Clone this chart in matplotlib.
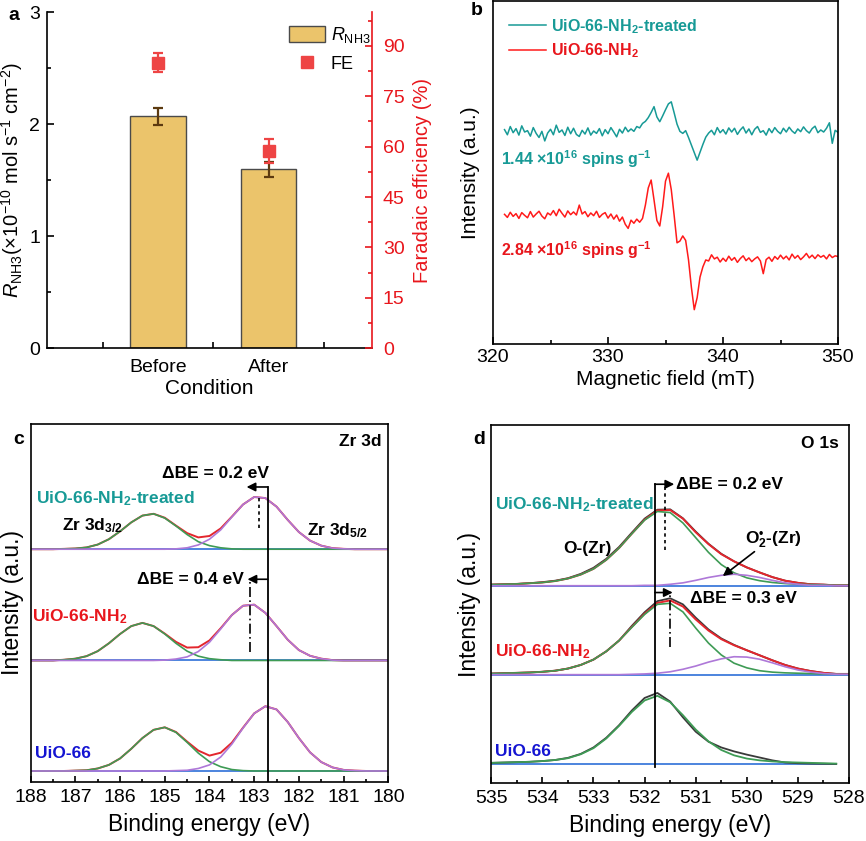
import numpy as np
import matplotlib
matplotlib.use('Agg')
import matplotlib.pyplot as plt

plt.rcParams['font.family'] = ['Liberation Sans', 'DejaVu Sans']
plt.rcParams['mathtext.fontset'] = 'custom'
plt.rcParams['mathtext.rm'] = 'Liberation Sans'
plt.rcParams['mathtext.it'] = 'Liberation Sans:italic'
plt.rcParams['mathtext.bf'] = 'Liberation Sans:bold'
plt.rcParams['axes.linewidth'] = 1.2

TEAL = '#179A96'
RED = '#E8161C'
BLUE = '#1414D2'
GREEN = '#3E9B55'
PURPLE = '#AE78D8'
BASE = '#2E6FD8'
ENV = '#E3262D'
RAW = '#3A3A3A'

# ---- a: NH3 yield rate / FE before and after ----
conditions = ['Before', 'After']
rate = [2.07, 1.60]
rate_err = [0.075, 0.067]
fe = [85.0, 58.7]
fe_err = [2.9, 3.7]

# ---- b: EPR spectra (a.u.), field 321-350 mT every 0.25 mT ----
field_start, field_stop, field_step = 321.0, 350.0, 0.25
epr_treated = [
    62.5, 61.0, 63.4, 61.6, 62.8, 60.9, 63.6, 61.8, 62.2, 60.6, 63.1, 61.4,
    60.2, 62.0, 59.2, 61.5, 62.6, 61.0, 63.8, 61.7, 62.4, 60.8, 63.2, 61.3,
    62.9, 61.1, 60.5, 62.3, 61.2, 63.0, 60.9, 62.1, 61.4, 62.8, 60.7, 62.5,
    61.3, 63.1, 61.8, 60.4, 62.6, 61.5, 63.2, 61.9, 62.7, 62.0, 63.4, 63.0,
    64.3, 64.9, 66.0, 67.5, 69.2, 66.2, 64.8, 66.5, 68.3, 70.0, 70.6, 67.4,
    64.1, 62.0, 61.4, 62.2, 60.2, 58.0, 55.8, 53.6, 55.9, 58.2, 60.3, 61.5,
    62.3, 61.0, 63.1, 61.6, 62.5, 61.2, 63.0, 61.8, 62.9, 61.1, 62.4, 63.3,
    61.5, 62.7, 61.0, 62.6, 63.4, 61.7, 62.2, 60.9, 62.8, 61.6, 63.1, 62.0,
    61.3, 62.9, 61.8, 63.2, 62.1, 61.4, 62.7, 61.9, 63.3, 62.2, 61.5, 62.8,
    63.5, 61.6, 62.4, 61.8, 62.9, 64.5, 58.5, 62.3, 61.7]
epr_pristine = [
    37.8, 36.9, 38.4, 37.2, 38.0, 36.6, 38.3, 37.5, 36.8, 38.6, 37.0, 37.9,
    38.7, 37.3, 36.5, 38.2, 37.6, 38.9, 37.4, 39.3, 38.1, 37.0, 38.8, 37.7,
    38.5, 37.6, 40.5, 37.9, 38.6, 37.1, 38.2, 37.4, 38.7, 36.9, 37.8, 38.3,
    36.7, 37.9, 36.4, 37.6, 35.8, 37.0, 34.9, 33.7, 36.1, 35.2, 36.4, 35.5,
    36.6, 40.5, 45.5, 47.8, 42.0, 36.0, 34.4, 40.0, 47.5, 49.8, 45.0, 37.5,
    29.5, 30.0, 31.5, 30.2, 24.5, 16.5, 10.0, 13.5, 19.5, 22.5, 24.5, 24.2,
    26.0, 24.8, 25.3, 23.9, 25.0, 24.1, 25.6, 24.4, 25.2, 23.8, 24.9, 25.7,
    24.3, 25.1, 24.0, 24.8, 25.4, 24.2, 20.5, 24.6, 25.3, 24.1, 25.5, 24.7,
    25.9, 24.8, 25.6, 24.5, 26.2, 25.0, 25.8, 24.6, 25.4, 26.4, 25.1, 25.9,
    24.9, 26.0, 25.3, 25.8, 24.8, 26.1, 25.2, 25.7, 25.5]
spin_labels = [r'1.44 ×10$^\mathbf{16}$ spins g$^\mathbf{-1}$',
               r'2.84 ×10$^\mathbf{16}$ spins g$^\mathbf{-1}$']

# ---- c: Zr 3d XPS, 188 -> 180 eV every 0.25 eV (height above baseline) ----
zr_offset = [3.0, 33.9, 65.0]          # UiO-66, NH2, treated
zr_peak = [182.7, 183.1, 182.9]        # Zr 3d5/2 position
zr_env_bare = [0, 0, 0, 0, 0.1, 0.2, 0.7, 1.7, 3.5, 6.2, 9.2, 11.5, 12.2, 10.9, 8.2, 5.7, 4.3,
               5.1, 7.9, 12.1, 16.1, 18.1, 17.2, 13.7, 9.2, 5.2, 2.5, 1.0, 0.3, 0.1, 0, 0, 0]
zr_32_bare = [0, 0, 0, 0, 0.1, 0.2, 0.7, 1.7, 3.5, 6.2, 9.2, 11.5, 12.2, 10.8, 8.0, 5.0, 2.6,
              1.2, 0.4, 0.1, 0, 0, 0, 0, 0, 0, 0, 0, 0, 0, 0, 0, 0]
zr_52_bare = [0, 0, 0, 0, 0, 0, 0, 0, 0, 0, 0, 0, 0, 0.1, 0.2, 0.7, 1.7,
              3.9, 7.5, 12.0, 16.1, 18.1, 17.2, 13.7, 9.2, 5.2, 2.5, 1.0, 0.3, 0.1, 0, 0, 0]
zr_env_nh2 = [0, 0, 0, 0.2, 0.5, 1.2, 2.6, 4.8, 7.4, 9.6, 10.5, 9.6, 7.5, 5.2, 3.6, 3.7, 5.6,
              9.0, 12.7, 15.3, 15.6, 13.3, 9.6, 5.8, 2.9, 1.3, 0.5, 0.1, 0, 0, 0, 0, 0]
zr_32_nh2 = [0, 0, 0, 0.2, 0.5, 1.2, 2.6, 4.8, 7.4, 9.6, 10.5, 9.6, 7.4, 4.8, 2.6, 1.2, 0.5,
             0.2, 0, 0, 0, 0, 0, 0, 0, 0, 0, 0, 0, 0, 0, 0, 0]
zr_52_nh2 = [0, 0, 0, 0, 0, 0, 0, 0, 0, 0, 0, 0, 0.1, 0.4, 1.0, 2.5, 5.1,
             8.8, 12.7, 15.3, 15.6, 13.3, 9.6, 5.8, 2.9, 1.3, 0.5, 0.1, 0, 0, 0, 0, 0]
zr_env_tr = [0, 0, 0, 0.1, 0.2, 0.5, 1.3, 2.8, 5.0, 7.5, 9.4, 9.9, 8.8, 6.6, 4.5, 3.3, 3.7,
             5.8, 9.1, 12.5, 14.6, 14.3, 11.9, 8.2, 4.8, 2.4, 1.0, 0.3, 0.1, 0, 0, 0, 0]
zr_32_tr = [0, 0, 0, 0.1, 0.2, 0.5, 1.3, 2.8, 5.0, 7.5, 9.4, 9.9, 8.7, 6.5, 4.1, 2.1, 1.0,
            0.4, 0.1, 0, 0, 0, 0, 0, 0, 0, 0, 0, 0, 0, 0, 0, 0]
zr_52_tr = [0, 0, 0, 0, 0, 0, 0, 0, 0, 0, 0, 0, 0, 0.1, 0.4, 1.2, 2.8,
            5.4, 9.0, 12.5, 14.6, 14.3, 11.9, 8.2, 4.8, 2.4, 1.0, 0.3, 0.1, 0, 0, 0, 0]

# ---- d: O 1s XPS, 535 -> 528 eV every 0.25 eV (height above baseline) ----
o_offset = [5.4, 30.3, 55.1]
o_peak = [531.8, 531.5, 531.6]
o_raw_bare = [0.3, 0.4, 0.5, 0.6, 0.8, 1.1, 1.7, 2.8, 4.6, 7.3, 10.8, 14.9, 18.4, 19.8,
              17.4, 13.0, 9.0, 6.2, 4.6, 3.5, 2.6, 1.8, 1.0, 0.4, 0.2, 0.1, 0.05, 0.0]
o_zr_bare = [0.3, 0.4, 0.5, 0.6, 0.8, 1.1, 1.6, 2.7, 4.4, 7.1, 10.6, 14.5, 17.7, 19.0,
             17.2, 13.6, 9.6, 6.3, 3.9, 2.4, 1.5, 1.0, 0.7, 0.5, 0.4, 0.3, 0.2, 0.1]
o_raw_nh2 = [0.3, 0.4, 0.5, 0.6, 0.8, 1.1, 1.7, 2.7, 4.2, 6.5, 9.5, 13.6, 17.4, 20.5, 21.3,
             19.6, 15.9, 12.6, 10.1, 8.3, 6.8, 5.4, 4.0, 2.7, 1.7, 1.0, 0.5, 0.2, 0.2]
o_env_nh2 = [0.3, 0.4, 0.5, 0.6, 0.8, 1.1, 1.7, 2.7, 4.2, 6.5, 9.5, 13.3, 17.0, 20.0, 20.7,
             19.0, 15.4, 12.3, 9.9, 8.2, 6.8, 5.4, 4.0, 2.7, 1.7, 1.0, 0.5, 0.2, 0.2]
o_zr_nh2 = [0.3, 0.4, 0.5, 0.6, 0.8, 1.1, 1.7, 2.7, 4.2, 6.5, 9.5, 13.2, 16.8, 19.6, 19.9,
            17.5, 13.0, 8.8, 5.5, 3.2, 1.9, 1.1, 0.7, 0.5, 0.4, 0.3, 0.2, 0.1, 0.1]
o_sup_nh2 = [0, 0, 0, 0, 0, 0, 0, 0, 0, 0, 0, 0.1, 0.2, 0.4, 0.8,
             1.5, 2.4, 3.5, 4.4, 5.0, 4.9, 4.3, 3.3, 2.2, 1.3, 0.7, 0.3, 0.1, 0.1]
o_raw_tr = [0.3, 0.4, 0.5, 0.7, 1.0, 1.4, 2.1, 3.3, 5.0, 7.5, 10.8, 14.8, 18.7, 21.2, 21.3,
            18.8, 15.1, 11.7, 8.9, 6.8, 5.1, 3.7, 2.4, 1.4, 0.8, 0.4, 0.3, 0.1, 0.1]
o_env_tr = [0.3, 0.4, 0.5, 0.7, 0.9, 1.3, 2.0, 3.1, 4.7, 7.2, 10.5, 14.5, 18.4, 21.0, 21.1,
            18.7, 14.9, 11.6, 8.8, 6.8, 5.1, 3.7, 2.4, 1.4, 0.8, 0.4, 0.3, 0.1, 0.1]
o_zr_tr = [0.3, 0.4, 0.5, 0.7, 0.9, 1.3, 2.0, 3.1, 4.7, 7.2, 10.5, 14.5, 18.3, 20.7, 20.4,
           17.5, 13.4, 9.3, 5.9, 3.6, 2.2, 1.4, 0.9, 0.6, 0.4, 0.3, 0.2, 0.1, 0.1]
o_sup_tr = [0, 0, 0, 0, 0, 0, 0, 0, 0, 0, 0, 0, 0.1, 0.1, 0.4,
            0.8, 1.5, 2.3, 2.9, 3.2, 2.9, 2.3, 1.5, 0.8, 0.4, 0.1, 0.1, 0, 0]

fig = plt.figure(figsize=(8.66, 8.41), dpi=100)

# ================= a =================
ax = fig.add_axes([0.0546, 0.5859, 0.3746, 0.3995])
xpos = np.arange(1, len(conditions) + 1)
bars = ax.bar(xpos, rate, width=0.5, color='#EBC46B', edgecolor='#4a4a4a', linewidth=1.0,
              label=r'$R_\mathrm{NH3}$', zorder=2)
ax.errorbar(xpos, rate, yerr=rate_err, fmt='none', ecolor='#5C3A10', elinewidth=1.6,
            capsize=3.5, capthick=1.6, zorder=3)
ax.set_xlim(0, 2.93)
ax.set_ylim(0, 3)
ax.set_xticks(xpos, conditions)
ax.set_xticks(np.append(xpos - 0.5, xpos[-1] + 0.5), minor=True)
ax.set_yticks([0, 1, 2, 3])
ax.set_yticks([0.5, 1.5, 2.5], minor=True)
ax.tick_params(direction='in', which='both', labelsize=14, width=1.2)
ax.tick_params(axis='y', which='major', length=5, pad=5)
ax.tick_params(axis='y', which='minor', length=3)
ax.tick_params(axis='x', which='major', length=0, pad=8)
ax.tick_params(axis='x', which='minor', length=4)
ax.spines['top'].set_visible(False)
ax.spines['right'].set_visible(False)
ax.set_xlabel('Condition', fontsize=15, labelpad=2)
ax.set_ylabel(r'$R_\mathrm{NH3}$(×10$^{-10}$ mol s$^{-1}$ cm$^{-2}$)', fontsize=14.5)
ax.yaxis.set_label_coords(-0.068, 0.5)

ax2 = ax.twinx()
ax2.errorbar(xpos, fe, yerr=fe_err, fmt='none', ecolor='#EE4444', elinewidth=1.6,
             capsize=3.5, capthick=1.6)
fe_line, = ax2.plot(xpos, fe, 's', color='#EE4444', ms=9, label='FE')
ax2.set_ylim(0, 100)
ax2.set_yticks(np.arange(0, 91, 15))
ax2.set_yticks(np.arange(7.5, 100, 15), minor=True)
ax2.tick_params(direction='in', which='both', labelsize=14, width=1.2,
                colors=RED, pad=8)
ax2.tick_params(which='major', length=5)
ax2.tick_params(which='minor', length=3)
for s in ['top', 'left', 'bottom']:
    ax2.spines[s].set_visible(False)
ax2.spines['right'].set_color(RED)
ax2.set_ylabel('Faradaic efficiency (%)', fontsize=14.5, color=RED)
ax2.yaxis.set_label_coords(1.127, 0.5)
ax2.legend([bars, fe_line], [r'$R_\mathrm{NH3}$', 'FE'], loc='upper left',
           bbox_to_anchor=(0.695, 1.01), frameon=False, fontsize=13,
           handlelength=2.0, handleheight=0.95, handletextpad=0.3, labelspacing=0.55)

# ================= b =================
axb = fig.add_axes([0.5693, 0.5910, 0.3984, 0.4078])
field = np.arange(field_start, field_stop + field_step / 2, field_step)
axb.plot(field, epr_treated, color=TEAL, lw=1.1, label=r'UiO-66-NH$_\mathbf{2}$-treated')
axb.plot(field, epr_pristine, color='#FF1A1A', lw=1.1, label=r'UiO-66-NH$_\mathbf{2}$')
axb.set_xlim(320, 350)
axb.set_ylim(0, 100)
axb.set_yticks([])
axb.set_xticks([320, 330, 340, 350])
axb.set_xticks([325, 335, 345], minor=True)
axb.tick_params(direction='in', which='both', labelsize=14, width=1.2, top=False)
axb.tick_params(which='major', length=5)
axb.tick_params(which='minor', length=3)
axb.set_xlabel('Magnetic field (mT)', fontsize=15, labelpad=3)
axb.set_ylabel('Intensity (a.u.)', fontsize=15)
axb.yaxis.set_label_coords(-0.038, 0.5)
leg = axb.legend(loc='upper left', frameon=False, prop={'weight': 'bold', 'size': 11.5},
                 handlelength=2.3, handletextpad=0.3, labelspacing=0.35,
                 borderaxespad=0.7, borderpad=0.3)
for t, c in zip(leg.get_texts(), [TEAL, RED]):
    t.set_color(c)
for lab, y, c in zip(spin_labels, [54.0, 27.3], [TEAL, RED]):
    axb.text(320.7, y, lab, color=c, fontsize=11.5, fontweight='bold', va='center')


def xps_axes(rect, xlim):
    a = fig.add_axes(rect)
    a.set_xlim(*xlim)
    a.set_ylim(0, 100)
    a.set_yticks([])
    lo, hi = min(xlim), max(xlim)
    a.set_xticks(np.arange(lo, hi + 0.1, 1))
    a.set_xticks(np.arange(lo + 0.5, hi, 1), minor=True)
    a.tick_params(direction='in', which='both', labelsize=14, width=1.2, top=False, pad=5)
    a.tick_params(which='major', length=4)
    a.tick_params(which='minor', length=2.5)
    a.set_xlabel('Binding energy (eV)', fontsize=16.5, labelpad=5)
    a.set_ylabel('Intensity (a.u.)', fontsize=16.5)
    return a


def arrow(a, x0, x1, y):
    a.annotate('', xy=(x1, y), xytext=(x0, y),
               arrowprops=dict(arrowstyle='-|>', color='black', lw=1.2,
                               mutation_scale=13, shrinkA=0, shrinkB=0))


bold = dict(fontsize=12.5, fontweight='bold', va='center')

# ================= c =================
axc = xps_axes([0.0354, 0.0705, 0.4130, 0.4253], (188, 180))
axc.yaxis.set_label_coords(-0.018, 0.5)
zr_be = np.arange(188.0, 179.99, -0.25)
for off, env, p32, p52 in zip(zr_offset,
                              [zr_env_bare, zr_env_nh2, zr_env_tr],
                              [zr_32_bare, zr_32_nh2, zr_32_tr],
                              [zr_52_bare, zr_52_nh2, zr_52_tr]):
    axc.plot(zr_be, np.zeros_like(zr_be) + off, color=BASE, lw=1.2)
    axc.plot(zr_be, np.add(env, off), color=ENV, lw=1.4)
    axc.plot(zr_be, np.add(p32, off), color=GREEN, lw=1.2)
    axc.plot(zr_be, np.add(p52, off), color=PURPLE, lw=1.2)
ref = zr_peak[0]
axc.plot([ref, ref], [0, 82.4], color='black', lw=1.3)
arrow(axc, ref, ref + 0.47, 82.4)
arrow(axc, ref, ref + 0.45, 56.6)
axc.plot([zr_peak[2]] * 2, [70.8, 79.9], color='black', lw=1.2, ls=(0, (2, 2)))
axc.plot([zr_peak[1]] * 2, [36.3, 56.6], color='black', lw=1.2, ls=(0, (6, 2, 1, 2)))
axc.text(180.15, 95.1, 'Zr 3d', ha='right', **bold)
axc.text(183.87, 86.2, 'ΔBE = 0.2 eV', ha='center', **bold)
axc.text(183.22, 56.6, 'ΔBE = 0.4 eV', ha='right', **bold)
axc.text(187.88, 79.2, r'UiO-66-NH$_\mathbf{2}$-treated', color=TEAL, **bold)
axc.text(187.3, 71.7, r'Zr 3d$_\mathbf{3/2}$', color='black', **bold)
axc.text(181.83, 70.3, r'Zr 3d$_\mathbf{5/2}$', color='black', **bold)
axc.text(187.96, 46.1, r'UiO-66-NH$_\mathbf{2}$', color=RED, **bold)
axc.text(187.9, 7.9, 'UiO-66', color=BLUE, **bold)

# ================= d =================
axd = xps_axes([0.5673, 0.0686, 0.4131, 0.4264], (535, 528))
axd.yaxis.set_label_coords(-0.029, 0.5)
o_be = np.arange(535.0, 527.99, -0.25)
o_be_bare = o_be[:len(o_raw_bare)]
axd.plot(o_be_bare, np.zeros_like(o_be_bare) + o_offset[0], color=BASE, lw=1.2)
axd.plot(o_be_bare, np.add(o_raw_bare, o_offset[0]), color=RAW, lw=1.3)
axd.plot(o_be_bare, np.add(o_zr_bare, o_offset[0]), color=GREEN, lw=1.3)
for off, raw, env, pz, ps in zip(o_offset[1:], [o_raw_nh2, o_raw_tr], [o_env_nh2, o_env_tr],
                                 [o_zr_nh2, o_zr_tr], [o_sup_nh2, o_sup_tr]):
    axd.plot(o_be, np.zeros_like(o_be) + off, color=BASE, lw=1.2)
    axd.plot(o_be, np.add(raw, off), color=RAW, lw=1.3)
    axd.plot(o_be, np.add(env, off), color=ENV, lw=1.4)
    axd.plot(o_be, np.add(pz, off), color=GREEN, lw=1.2)
    axd.plot(o_be, np.add(ps, off), color=PURPLE, lw=1.2)
ref = o_peak[0]
axd.plot([ref, ref], [4.6, 83.4], color='black', lw=1.3)
arrow(axd, ref, ref - 0.38, 83.4)
arrow(axd, ref, ref - 0.35, 53.2)
axd.plot([o_peak[2]] * 2, [65.1, 82.7], color='black', lw=1.2, ls=(0, (2, 2)))
axd.plot([o_peak[1]] * 2, [38.1, 53.2], color='black', lw=1.2, ls=(0, (6, 2, 1, 2)))
axd.annotate('', xy=(530.47, 57.8), xytext=(529.85, 64.6),
             arrowprops=dict(arrowstyle='-|>', color='black', lw=1.2,
                             mutation_scale=13, shrinkA=0, shrinkB=0))
axd.text(528.2, 94.8, 'O 1s', ha='right', **bold)
axd.text(531.38, 83.4, 'ΔBE = 0.2 eV', ha='left', **bold)
axd.text(531.12, 51.6, 'ΔBE = 0.3 eV', ha='left', **bold)
axd.text(534.93, 77.6, r'UiO-66-NH$_\mathbf{2}$-treated', color=TEAL, **bold)
axd.text(533.6, 65.5, 'O-(Zr)', color='black', **bold)
axd.text(530.04, 67.8, r'O$_\mathbf{2}^\mathbf{•}$-(Zr)', color='black', **bold)
axd.text(534.93, 36.7, r'UiO-66-NH$_\mathbf{2}$', color=RED, **bold)
axd.text(534.93, 8.8, 'UiO-66', color=BLUE, **bold)

for lab, x, y in [('a', 0.0092, 0.982), ('b', 0.543, 0.988),
                  ('c', 0.015, 0.477), ('d', 0.546, 0.477)]:
    fig.text(x, y, lab, fontsize=14, fontweight='bold', va='center')

fig.savefig('out.png', dpi=100)
